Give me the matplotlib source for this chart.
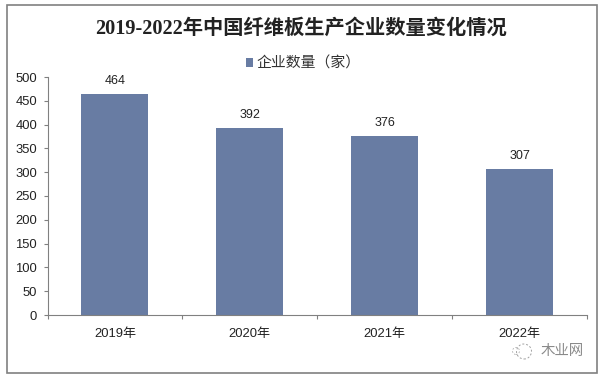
import matplotlib
matplotlib.use("Agg")
import matplotlib.pyplot as plt
from matplotlib.patches import Rectangle, Circle

categories = ["2019年", "2020年", "2021年", "2022年"]
values = [464, 392, 376, 307]
yticks = [0, 50, 100, 150, 200, 250, 300, 350, 400, 450, 500]
series_name = "企业数量（家）"
title = "2019-2022年中国纤维板生产企业数量变化情况"
watermark = "木业网"

W, H = 604, 378
SANS = ["Liberation Sans", "Noto Sans CJK SC", "DejaVu Sans"]
SERIF = ["Liberation Serif", "Noto Sans CJK SC", "DejaVu Sans"]
plt.rcParams["font.family"] = SANS

fig = plt.figure(figsize=(W / 100, H / 100), dpi=100, facecolor="white")
fig.add_artist(Rectangle((6.7 / W, 1 - 373 / H), 589.8 / W, 368.3 / H, transform=fig.transFigure,
                         fill=False, edgecolor="#808080", linewidth=1.2))

ax = fig.add_axes([47.5 / W, 1 - 315 / H, 539.5 / W, 238 / H])
x = range(len(categories))
bars = ax.bar(x, values, width=0.497, color="#687ca3", label=series_name)
ax.set_xlim(-0.5, 3.5)
ax.set_ylim(0, 500)
ax.set_yticks(yticks)
ax.set_xticks([i - 0.5 for i in range(5)])
ax.set_xticklabels([])
ax.set_xticks(list(x), minor=True)
ax.set_xticklabels(categories, minor=True, fontsize=9.4, color="#222222")
ax.tick_params(axis="x", which="minor", length=0, pad=9)
ax.tick_params(axis="x", which="major", length=3, color="#808080", direction="out", width=0.8)
ax.tick_params(axis="y", length=3, color="#808080", width=0.8, labelsize=9.4, labelcolor="#222222", pad=4.5)
for s in ("top", "right"):
    ax.spines[s].set_visible(False)
for s in ("left", "bottom"):
    ax.spines[s].set_color("#808080")
    ax.spines[s].set_linewidth(0.8)

for b, v in zip(bars, values):
    ax.annotate(str(v), (b.get_x() + b.get_width() / 2, v), xytext=(0, 5), textcoords="offset points",
                ha="center", va="bottom", fontsize=9, color="#222222")

fig.text(301 / W, 1 - 28.5 / H, title, ha="center", va="center", fontsize=14.6, fontweight="bold",
         family=SERIF, color="#222222")

leg = ax.legend(loc="center", bbox_to_anchor=(303.5 / W, 1 - 63.5 / H), bbox_transform=fig.transFigure,
                frameon=False, fontsize=10.7, handlelength=0.45, handleheight=0.5, handletextpad=0.25)
for t in leg.get_texts():
    t.set_color("#333333")

fig.text(562.5 / W, 1 - 351.5 / H, watermark, ha="center", va="center", fontsize=10.4, color="#8a8a8a")
ax_logo = fig.add_axes([510 / W, 1 - 364 / H, 25 / W, 25 / H])
ax_logo.set_axis_off()
ax_logo.set_xlim(0, 25)
ax_logo.set_ylim(0, 25)
ax_logo.set_aspect("equal")
ax_logo.add_patch(Circle((14, 12.5), 7.5, fill=False, edgecolor="#a0a0a0", linewidth=0.7, linestyle=(0, (2, 2))))
ax_logo.add_patch(Circle((6, 13), 3.5, fill=False, edgecolor="#b0b0b0", linewidth=0.6, linestyle=(0, (2, 2))))
fig.savefig("out.png", dpi=100, facecolor="white")
